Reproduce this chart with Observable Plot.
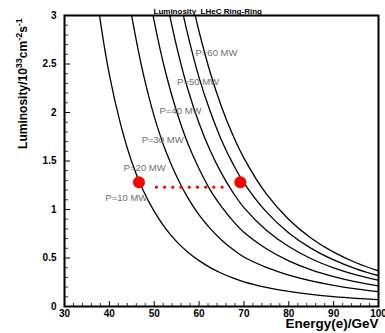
<!DOCTYPE html>
<html>
<head>
<meta charset="utf-8">
<script src="https://cdn.jsdelivr.net/npm/d3@7"></script>
<script src="https://cdn.jsdelivr.net/npm/@observablehq/plot@0.6"></script>
<style>
  html, body { margin: 0; padding: 0; background: white; }
</style>
</head>
<body>
<div id="chart"></div>
<script>
// ---- data ----
const powers = [10, 20, 30, 40, 50, 60];
const e10 = [35, 37.5, 40, 42.5, 45, 47.5, 50, 52.5, 55, 57.5, 60, 62.5, 65, 67.5, 70, 75, 80, 85, 90, 95, 100];
const l10 = [4.08, 3.10, 2.39, 1.88, 1.49, 1.20, 0.98, 0.806, 0.669, 0.560, 0.473, 0.401, 0.343, 0.295, 0.255, 0.198, 0.157, 0.126, 0.102, 0.084, 0.070];
const e20 = [42.5, 44, 45, 47.5, 50, 52.5, 55, 57.5, 60, 62.5, 65, 67.5, 70, 75, 80, 85, 90, 95, 100];
const l20 = [3.75, 3.27, 2.99, 2.41, 1.96, 1.61, 1.34, 1.12, 0.945, 0.803, 0.686, 0.590, 0.510, 0.403, 0.324, 0.264, 0.218, 0.181, 0.153];
const e30 = [47.5, 49, 50, 52.5, 55, 57.5, 60, 62.5, 65, 67.5, 70, 75, 80, 85, 90, 95, 100];
const l30 = [3.61, 3.19, 2.94, 2.42, 2.01, 1.68, 1.42, 1.20, 1.03, 0.885, 0.765, 0.596, 0.471, 0.378, 0.308, 0.254, 0.212];
const e40 = [52, 53, 55, 57.5, 60, 62.5, 65, 67.5, 70, 75, 80, 85, 90, 95, 100];
const l40 = [3.35, 3.105, 2.68, 2.24, 1.89, 1.605, 1.372, 1.18, 1.02, 0.787, 0.618, 0.492, 0.398, 0.326, 0.270];
const e50 = [55, 56, 57.5, 60, 62.5, 65, 67.5, 70, 75, 80, 85, 90, 95, 100];
const l50 = [3.35, 3.11, 2.80, 2.36, 2.01, 1.715, 1.475, 1.275, 0.975, 0.758, 0.599, 0.480, 0.388, 0.318];
const e60 = [57.5, 59, 60, 62.5, 65, 67.5, 70, 75, 80, 85, 90, 95, 100];
const l60 = [3.36, 3.03, 2.835, 2.41, 2.06, 1.77, 1.53, 1.16, 0.897, 0.704, 0.560, 0.451, 0.367];

const labelText = ["P=10 MW", "P=20 MW", "P=30 MW", "P=40 MW", "P=50 MW", "P=60 MW"];
const labelE = [39.1, 43.2, 47.2, 51.2, 55.1, 59.2];
const labelL = [1.12, 1.43, 1.72, 2.02, 2.32, 2.615];

const markerE = [46.6, 69.2];
const markerL = [1.28, 1.28];
const dottedE = [50.5, 65.2];
const dottedL = [1.23, 1.23];

const xMajor = [30, 40, 50, 60, 70, 80, 90, 100];
const xMinor = [32, 34, 36, 38, 42, 44, 46, 48, 52, 54, 56, 58, 62, 64, 66, 68, 72, 74, 76, 78, 82, 84, 86, 88, 92, 94, 96, 98];
const yMajor = [0, 0.5, 1, 1.5, 2, 2.5, 3];
const yMajorLabels = ["0", "0.5", "1", "1.5", "2", "2.5", "3"];
const yMinor = [0.1, 0.2, 0.3, 0.4, 0.6, 0.7, 0.8, 0.9, 1.1, 1.2, 1.3, 1.4, 1.6, 1.7, 1.8, 1.9, 2.1, 2.2, 2.3, 2.4, 2.6, 2.7, 2.8, 2.9];

const titleText = "Luminosity  LHeC Ring-Ring";
const xLabel = "Energy(e)/GeV";

// ---- build tables ----
const curveE = [e10, e20, e30, e40, e50, e60];
const curveL = [l10, l20, l30, l40, l50, l60];
const curves = [];
powers.forEach((p, i) => curveE[i].forEach((e, j) => curves.push({P: p, E: e, L: curveL[i][j]})));
const labels = labelText.map((t, i) => ({t, E: labelE[i], L: labelL[i]}));
const markers = markerE.map((e, i) => ({E: e, L: markerL[i]}));
const dotted = dottedE.map((e, i) => ({E: e, L: dottedL[i]}));

const W = 385, H = 333;
const mL = 64, mR = 7, mT = 15, mB = 27;
const innerW = W - mL - mR, innerH = H - mT - mB;
const font = "Liberation Sans, Arial, Helvetica, sans-serif";

const chart = Plot.plot({
  width: W,
  height: H,
  marginLeft: mL, marginRight: mR, marginTop: mT, marginBottom: mB,
  style: {fontFamily: font, background: "white", overflow: "visible", color: "black"},
  x: {domain: [30, 100]},
  y: {domain: [0, 3]},
  marks: [
    Plot.line(curves, {x: "E", y: "L", z: "P", stroke: "black", strokeWidth: 1.3, curve: "catmull-rom", clip: true}),
    Plot.line(dotted, {x: "E", y: "L", stroke: "#ff0000", strokeWidth: 3.2, strokeDasharray: "0,8.2", strokeLinecap: "round"}),
    Plot.dot(markers, {x: "E", y: "L", r: 6, fill: "#ff0000", stroke: "none"}),
    Plot.text(labels, {x: "E", y: "L", text: "t", textAnchor: "start", fill: "#6e6e6e", fontSize: 9.5}),
    // inward ticks
    Plot.ruleX(xMajor, {x: d => d, insetTop: innerH - 5, stroke: "black", strokeWidth: 1}),
    Plot.ruleX(xMinor, {x: d => d, insetTop: innerH - 3, stroke: "black", strokeWidth: 0.8}),
    Plot.ruleY(yMajor, {y: d => d, insetRight: innerW - 6, stroke: "black", strokeWidth: 1}),
    Plot.ruleY(yMinor, {y: d => d, insetRight: innerW - 4, stroke: "black", strokeWidth: 0.8}),
    Plot.frame({stroke: "black", strokeWidth: 2}),
    Plot.axisX({ticks: xMajor, tickSize: 0, tickPadding: 3, fontSize: 10, fontWeight: "bold", label: null}),
    Plot.axisY({ticks: yMajor, tickSize: 0, tickPadding: 8, fontSize: 10, fontWeight: "bold", label: null,
                tickFormat: d => yMajorLabels[yMajor.indexOf(d)]}),
    Plot.text([titleText], {frameAnchor: "top-left", dx: 89, dy: -7, text: d => d, textAnchor: "start", fontSize: 8, fontWeight: "bold"}),
    Plot.text([xLabel], {frameAnchor: "bottom-right", dy: 21, text: d => d, textAnchor: "end", fontSize: 13.5, fontWeight: "bold"}),
    Plot.text(["Luminosity/10"], {frameAnchor: "top-left", dx: -46, dy: 68, rotate: -90, text: d => d, textAnchor: "middle", fontSize: 12, fontWeight: "bold", className: "ylab"})
  ]
});

// superscripts in the y-axis label
const yl = d3.select(chart).select(".ylab text");
if (!yl.empty()) {
  yl.text(null);
  yl.append("tspan").text("Luminosity/10");
  yl.append("tspan").attr("dy", -5).attr("font-size", 9).text("33");
  yl.append("tspan").attr("dy", 5).text("cm");
  yl.append("tspan").attr("dy", -5).attr("font-size", 9).text("-2");
  yl.append("tspan").attr("dy", 5).text("s");
  yl.append("tspan").attr("dy", -5).attr("font-size", 9).text("-1");
}

document.getElementById("chart").appendChild(chart);
</script>
</body>
</html>
